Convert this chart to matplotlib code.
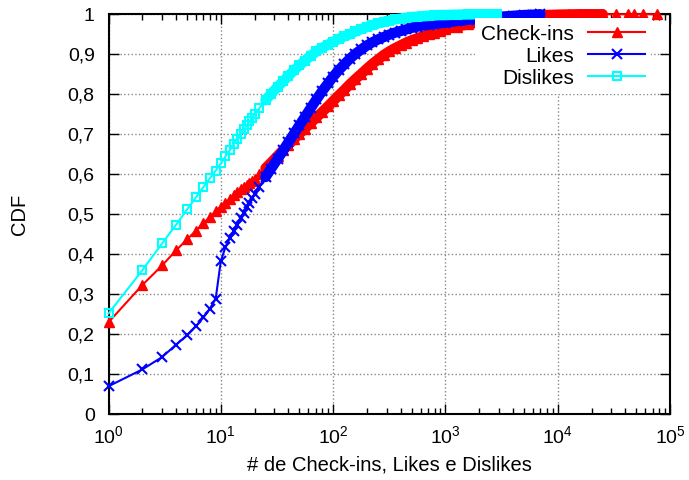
import matplotlib
matplotlib.use("Agg")
import matplotlib.pyplot as plt
from matplotlib.ticker import LogLocator, FixedLocator, NullFormatter

plt.rcParams['font.family'] = ['Liberation Sans', 'DejaVu Sans']
plt.rcParams['mathtext.fontset'] = 'custom'
plt.rcParams['mathtext.rm'] = 'Liberation Sans'

# CDF values
checkins_x = [1, 2, 3, 4, 5, 6, 7, 8, 9, 10, 11, 12, 13, 14, 15, 16, 17, 18, 19, 20,
              22, 25, 28, 32, 36, 40, 45, 50, 56, 63, 71, 80, 90, 100, 112, 126, 141,
              158, 178, 200, 224, 251, 282, 316, 355, 398, 447, 501, 562, 631, 708,
              794, 891, 1000, 1259, 1585, 1995, 2512, 3162, 3981, 5012, 6310, 7943,
              10000, 12589, 15849, 19953, 25119, 33000, 42000, 48000, 57000, 77000]
checkins_y = [.23, .323, .372, .41, .437, .459, .478, .493, .507, .518, .528, .538, .547,
              .555, .562, .568, .574, .579, .584, .589, .600, .615, .629, .646, .661,
              .674, .688, .701, .714, .728, .742, .756, .770, .783, .797, .811, .825,
              .838, .851, .864, .876, .887, .898, .907, .915, .922, .929, .935, .940,
              .945, .950, .954, .958, .962, .969, .975, .980, .985, .989, .992, .995,
              .997, .998, .999, .9995, 1, 1, 1, 1, 1, 1, 1, 1]

likes_x = [1, 2, 3, 4, 5, 6, 7, 8, 9, 10, 11, 12, 13, 14, 15, 16, 17, 18, 19, 20,
           22, 25, 28, 32, 36, 40, 45, 50, 56, 63, 71, 80, 90, 100, 112, 126, 141,
           158, 178, 200, 224, 251, 282, 316, 355, 398, 447, 501, 562, 631, 708,
           794, 891, 1000, 1259, 1585, 1995, 2512, 3162, 3981, 5012, 6310, 7000]
likes_y = [.07, .112, .143, .174, .197, .22, .242, .264, .289, .383, .418, .44, .458,
           .474, .49, .504, .517, .529, .54, .55, .569, .593, .614, .638, .66, .68,
           .702, .722, .743, .765, .787, .808, .827, .844, .86, .875, .889, .901,
           .912, .922, .93, .937, .943, .949, .954, .958, .962, .966, .969, .972,
           .974, .976, .978, .979, .983, .986, .989, .992, .994, .996, .998, .999, 1]

dislikes_x = [1, 2, 3, 4, 5, 6, 7, 8, 9, 10, 11, 12, 13, 14, 15, 16, 17, 18, 19, 20,
              22, 25, 28, 32, 36, 40, 45, 50, 56, 63, 71, 80, 90, 100, 112, 126, 141,
              158, 178, 200, 224, 251, 282, 316, 355, 398, 447, 501, 562, 631, 708,
              794, 891, 1000, 1259, 1585, 1995, 2512, 2850]
dislikes_y = [.252, .36, .427, .474, .512, .542, .568, .59, .609, .627, .645, .66, .675,
              .689, .701, .712, .722, .732, .741, .75, .765, .785, .801, .818, .833,
              .846, .86, .872, .884, .896, .907, .916, .924, .931, .938, .945, .95,
              .957, .963, .968, .973, .977, .981, .984, .987, .989, .991, .993, .994,
              .995, .996, .997, .998, .998, .999, .9995, 1, 1, 1]

y_ticks = [0, 0.1, 0.2, 0.3, 0.4, 0.5, 0.6, 0.7, 0.8, 0.9, 1]
y_labels = ['0', '0,1', '0,2', '0,3', '0,4', '0,5', '0,6', '0,7', '0,8', '0,9', '1']

series = [
    (checkins_x, checkins_y, '#ff0000', 'Check-ins', dict(marker='^', ms=7.5)),
    (likes_x, likes_y, '#0000ff', 'Likes', dict(marker='x', ms=7, mew=1.5)),
    (dislikes_x, dislikes_y, '#00ffff', 'Dislikes', dict(marker='s', ms=6, mew=1.5, mfc='none')),
]

fig = plt.figure(figsize=(6.89, 4.8), dpi=100)
ax = fig.add_axes([0.1575, 0.137, 0.815, 0.8333])

for i, (xs, ys, col, lab, mk) in enumerate(series):
    ax.plot(xs, ys, color=col, lw=1.5, label=lab, clip_on=False, zorder=3 + i, **mk)
    # the points are so dense here that the markers merge into a thick band
    band = [(x, y) for x, y in zip(xs, ys) if 25 <= x <= 25119]
    ax.plot([p[0] for p in band], [p[1] for p in band], color=col, lw=7.5,
            solid_capstyle='round', solid_joinstyle='round', clip_on=False, zorder=3 + i)

ax.set_xscale('log')
ax.set_xlim(1, 1e5)
ax.set_ylim(0, 1)
ax.xaxis.set_major_locator(LogLocator(base=10, numticks=10))
ax.xaxis.set_minor_locator(LogLocator(base=10, subs=range(2, 10), numticks=20))
ax.xaxis.set_minor_formatter(NullFormatter())
ax.yaxis.set_major_locator(FixedLocator(y_ticks))
ax.set_yticklabels(y_labels)

ax.tick_params(which='both', direction='in', top=True, right=True, labelsize=14)
ax.tick_params(which='major', length=7, width=1)
ax.tick_params(which='minor', length=4, width=1)
ax.tick_params(axis='x', pad=8)
ax.tick_params(axis='y', pad=10)
for s in ax.spines.values():
    s.set_linewidth(1.5)

ax.grid(True, which='major', linestyle=':', color='#888888', linewidth=1)

ax.set_xlabel('# de Check-ins, Likes e Dislikes', fontsize=14.5, labelpad=6)
ax.set_ylabel('CDF', fontsize=14.5, labelpad=28)

leg = ax.legend(loc='upper right', bbox_to_anchor=(0.966, 0.99), markerfirst=False,
                fontsize=15, handlelength=2.7, handletextpad=0.7, labelspacing=0.15,
                borderaxespad=0, borderpad=0.3, fancybox=False)
leg.get_frame().set_edgecolor('none')
leg.get_frame().set_facecolor('white')
leg.get_frame().set_alpha(1)

fig.savefig('out.png', dpi=100)
